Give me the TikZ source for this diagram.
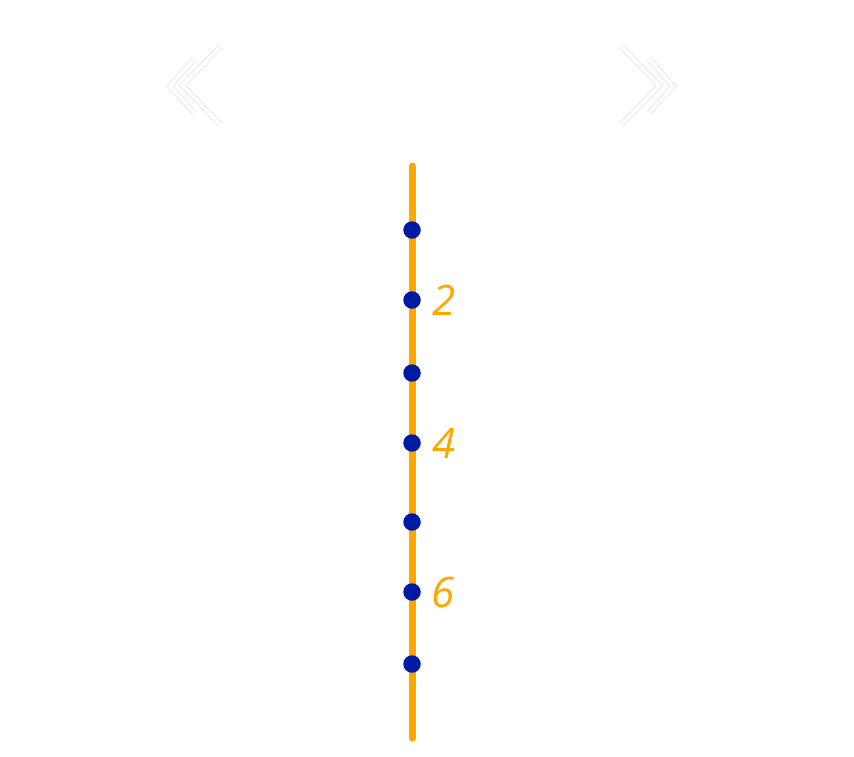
\documentclass[tikz,border=0pt]{standalone}
\usepackage{fontspec}
\setmainfont{Open Sans}
\definecolor{trackorange}{HTML}{FDA800}
\definecolor{dotblue}{HTML}{001BA3}
\definecolor{chevgray}{HTML}{DDE1EC}
\begin{document}
\begin{tikzpicture}[x=1pt,y=-1pt,
  dot/.style={circle,fill=dotblue,inner sep=0pt,minimum size=17.5pt},
  numlabel/.style={text=trackorange,font=\itshape\fontsize{42}{42}\selectfont,inner sep=0pt,anchor=west},
  track/.style={draw=trackorange,line width=7pt,line cap=round},
  chev/.style={draw=chevgray,line width=0.7pt,double=white,double distance=4pt,line join=miter}]
\useasboundingbox (0,0) rectangle (854,756);
\fill[white] (0,0) rectangle (854,756);
% chevrons
\draw[chev] (221,46) -- (182.5,85.5) -- (221,125);
\draw[chev] (194,59) -- (170,86) -- (194,113);
\draw[chev] (621,46) -- (659.5,85.5) -- (621,125);
\draw[chev] (649,59) -- (673,86) -- (649,113);
% track
\coordinate (top) at (412,166);
\coordinate (bot) at (412,738);
\draw[track] (top) -- (bot);
\foreach \n/\y in {1/230,2/300,3/373,4/443,5/522,6/592,7/664}{
  \node[dot] (d\n) at (412,\y) {};
}
\node[numlabel] (l2) at ([xshift=20pt]d2.center) {2};
\node[numlabel] (l4) at ([xshift=20pt]d4.center) {4};
\node[numlabel] (l6) at ([xshift=19pt]d6.center) {6};
\end{tikzpicture}
\end{document}
